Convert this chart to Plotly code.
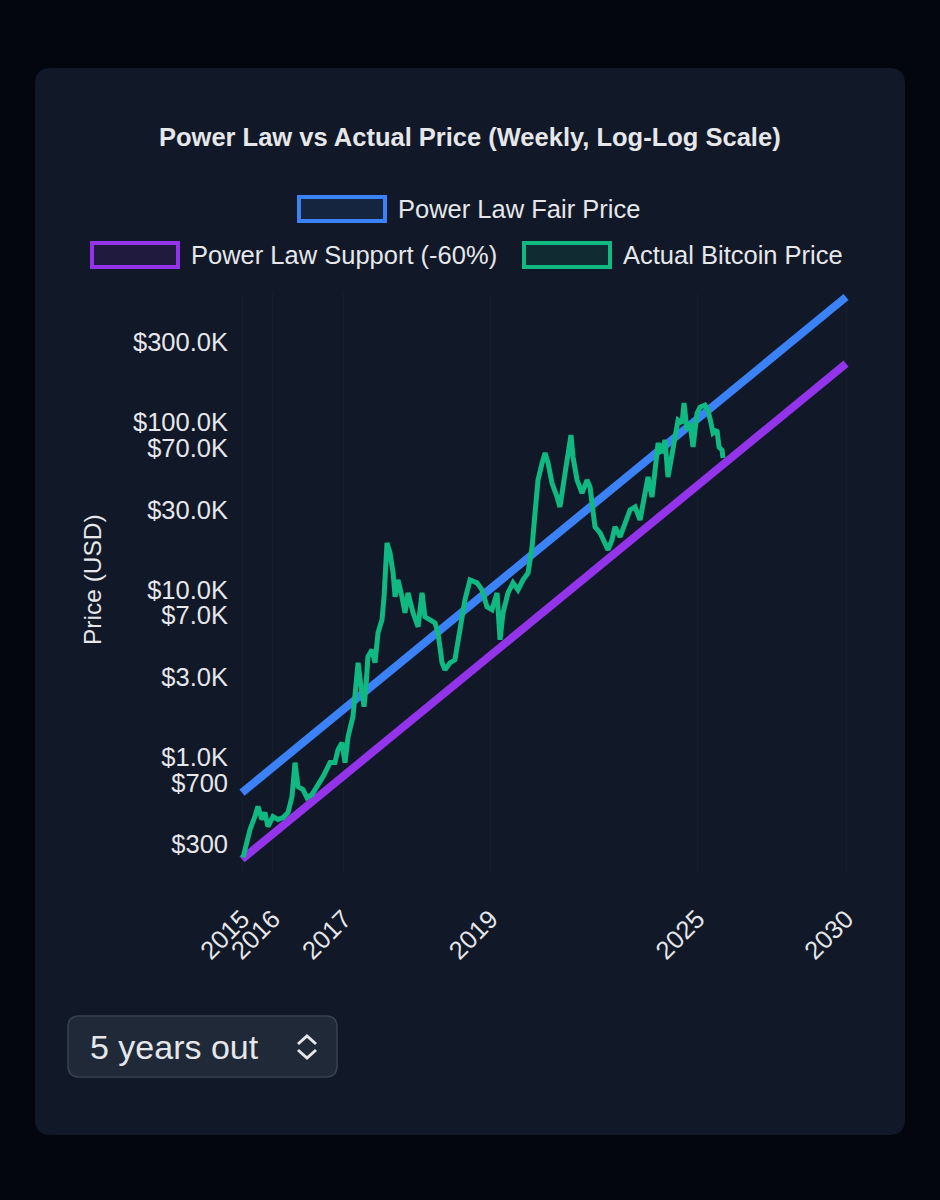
import plotly.graph_objects as go

# x = days since the genesis block (2009-01-03), both axes logarithmic
X_TICK_DAYS = [2457, 2610, 3000, 4000, 6000, 8030]
X_TICK_LABELS = ["2015", "2016", "2017", "2019", "2025", "2030"]

Y_TICK_VALS = [300, 700, 1000, 3000, 7000, 10000, 30000, 70000, 100000, 300000]
Y_TICK_LABELS = ["$300", "$700", "$1.0K", "$3.0K", "$7.0K", "$10.0K",
                 "$30.0K", "$70.0K", "$100.0K", "$300.0K"]

# power law lines (straight on log-log), read at the tick days
LAW_DAYS = [2457, 2610, 3000, 4000, 6000, 8030]
FAIR_PRICE = [613, 867, 1934, 10150, 104700, 560200]
SUPPORT_PRICE = [245, 347, 774, 4060, 41900, 224100]

# actual price
BTC_DAYS = [
    2462, 2496, 2520, 2535, 2555, 2570, 2585, 2611, 2637, 2663, 2689, 2710,
    2726, 2742, 2769, 2791, 2818, 2846, 2880, 2920, 2948, 2966, 2989, 3007,
    3025, 3054, 3078, 3085, 3103, 3121, 3133, 3145, 3170, 3189, 3208, 3233,
    3246, 3259, 3265, 3284, 3304, 3317, 3336, 3362, 3382, 3402, 3436, 3470,
    3497, 3517, 3552, 3587, 3608, 3637, 3658, 3694, 3730, 3767, 3804, 3842,
    3895, 3933, 3972, 4011, 4051, 4075, 4099, 4139, 4180, 4221, 4263, 4305,
    4339, 4364, 4390, 4425, 4451, 4477, 4512, 4557, 4583, 4629, 4656, 4683,
    4702, 4739, 4786, 4833, 4861, 4890, 4909, 4958, 5006, 5036, 5075, 5105,
    5156, 5206, 5258, 5310, 5362, 5415, 5447, 5490, 5522, 5555, 5598, 5631,
    5664, 5709, 5743, 5777, 5822, 5845, 5879, 5914, 5949, 5996, 6031, 6090,
    6126, 6162, 6187, 6235, 6260, 6297, 6309,
]
BTC_PRICE = [
    251, 369, 441, 506, 423, 466, 384, 441, 423, 435, 466, 580,
    926, 666, 639, 572, 596, 666, 763, 926, 926, 1107, 1218, 926,
    1323, 1741, 2894, 3656, 2629, 1998, 2629, 3970, 4371, 3656, 5521, 6599,
    9055, 14446, 19011, 16574, 12585, 9055, 11433, 9055, 7267, 9565, 7267, 5997,
    9565, 6879, 6599, 6334, 5521, 3656, 3321, 3656, 3810, 5521, 8688, 11433,
    10973, 9968, 7894, 7575, 9565, 5016, 7267, 9565, 10973, 9968, 11433, 12585,
    17993, 28708, 45170, 57060, 65460, 57060, 43350, 35770, 31170, 49740, 61960, 83810,
    61960, 45170, 37780, 45170, 41040, 28708, 23690, 21820, 19011, 17270, 19820, 23690,
    20650, 25020, 29920, 31170, 26080, 37780, 47080, 35770, 54030, 75110, 65460, 78280,
    47080, 68220, 81550, 103000, 98860, 130200, 89800, 98860, 71100, 113400, 123200, 126600,
    118200, 98860, 86150, 89800, 71100, 68220, 61120,
]

BLUE = "#3b82f6"
PURPLE = "#9333ea"
GREEN = "#10b981"
TEXT = "#e5e7eb"
PAGE_BG = "#03060f"
CARD_BG = "#111827"
FONT = "Liberation Sans, Arial, sans-serif"

W, H = 940, 1200
L, R, T, B = 238, 850, 293, 874  # plot area in pixels


def px(x):
    return (x - L) / (R - L)


def py(y):
    return (B - y) / (B - T)


def rounded_rect(x0, y0, x1, y1, r):
    """Rounded rectangle path in paper coordinates from pixel corners."""
    pts = [
        f"M {px(x0 + r)},{py(y0)}",
        f"L {px(x1 - r)},{py(y0)}",
        f"Q {px(x1)},{py(y0)} {px(x1)},{py(y0 + r)}",
        f"L {px(x1)},{py(y1 - r)}",
        f"Q {px(x1)},{py(y1)} {px(x1 - r)},{py(y1)}",
        f"L {px(x0 + r)},{py(y1)}",
        f"Q {px(x0)},{py(y1)} {px(x0)},{py(y1 - r)}",
        f"L {px(x0)},{py(y0 + r)}",
        f"Q {px(x0)},{py(y0)} {px(x0 + r)},{py(y0)}",
        "Z",
    ]
    return " ".join(pts)


fig = go.Figure()
fig.add_trace(go.Scatter(x=LAW_DAYS, y=FAIR_PRICE, mode="lines", name="Power Law Fair Price",
                         line=dict(color=BLUE, width=8), hoverinfo="skip"))
fig.add_trace(go.Scatter(x=LAW_DAYS, y=SUPPORT_PRICE, mode="lines", name="Power Law Support (-60%)",
                         line=dict(color=PURPLE, width=8), hoverinfo="skip"))
fig.add_trace(go.Scatter(x=BTC_DAYS, y=BTC_PRICE, mode="lines", name="Actual Bitcoin Price",
                         line=dict(color=GREEN, width=5)))

shapes = [
    # card
    dict(type="path", xref="paper", yref="paper", layer="below",
         path=rounded_rect(35, 68, 905, 1135, 16), fillcolor=CARD_BG, line=dict(width=0)),
    # select box
    dict(type="path", xref="paper", yref="paper",
         path=rounded_rect(68, 1016, 337, 1077, 11), fillcolor="#1f2937",
         line=dict(color="#374151", width=1.5)),
    # chevrons
    dict(type="path", xref="paper", yref="paper",
         path=f"M {px(298)},{py(1044)} L {px(307)},{py(1036)} L {px(316)},{py(1044)}",
         line=dict(color=TEXT, width=3)),
    dict(type="path", xref="paper", yref="paper",
         path=f"M {px(298)},{py(1050)} L {px(307)},{py(1058)} L {px(316)},{py(1050)}",
         line=dict(color=TEXT, width=3)),
]

annotations = [
    dict(text="<b>Power Law vs Actual Price (Weekly, Log-Log Scale)</b>", x=px(470), y=py(137),
         xref="paper", yref="paper", showarrow=False, xanchor="center", yanchor="middle",
         font=dict(size=25.5, color=TEXT, family=FONT)),
    dict(text="Price (USD)", x=px(92), y=py(580), xref="paper", yref="paper", showarrow=False,
         textangle=-90, xanchor="center", yanchor="middle", font=dict(size=24.5, color=TEXT, family=FONT)),
    dict(text="5 years out", x=px(88), y=py(1047), xref="paper", yref="paper", showarrow=False,
         xanchor="left", yanchor="middle", font=dict(size=34, color=TEXT, family=FONT)),
]

# legend as boxes + labels (chart.js style)
legend_items = [
    ("Power Law Fair Price", BLUE, "rgba(59,130,246,0.12)", 297, 209),
    ("Power Law Support (-60%)", PURPLE, "rgba(147,51,234,0.12)", 90, 255),
    ("Actual Bitcoin Price", GREEN, "rgba(16,185,129,0.12)", 522, 255),
]
for label, color, fill, x0, yc in legend_items:
    shapes.append(dict(type="rect", xref="paper", yref="paper",
                       x0=px(x0 + 2), x1=px(x0 + 88), y0=py(yc - 12), y1=py(yc + 12),
                       fillcolor=fill, line=dict(color=color, width=4)))
    annotations.append(dict(text=label, x=px(x0 + 99), y=py(yc), xref="paper", yref="paper",
                            showarrow=False, xanchor="left", yanchor="middle",
                            font=dict(size=25.5, color=TEXT, family=FONT)))

fig.update_layout(
    width=W, height=H,
    margin=dict(l=L, r=W - R, t=T, b=H - B),
    paper_bgcolor=PAGE_BG,
    plot_bgcolor="rgba(0,0,0,0)",
    showlegend=False,
    shapes=shapes,
    annotations=annotations,
    font=dict(family=FONT, color=TEXT, size=25.5),
)
fig.update_xaxes(
    type="log", range=[3.3870, 3.9081],
    tickvals=X_TICK_DAYS, ticktext=X_TICK_LABELS, tickangle=-45,
    tickfont=dict(size=25.5, color=TEXT), ticklabelstandoff=24,
    showgrid=True, gridcolor="#161d2b", gridwidth=1, zeroline=False, showline=False, ticks="",
)
fig.update_yaxes(
    type="log", range=[2.30103, 5.7723],
    tickvals=Y_TICK_VALS, ticktext=Y_TICK_LABELS,
    tickfont=dict(size=25.5, color=TEXT), ticklabelstandoff=9,
    showgrid=False, zeroline=False, showline=False, ticks="",
)

fig.write_html(
    "out.html",
    config={"displayModeBar": False},
    post_script="document.body.style.margin='0';document.body.style.background='#03060f';",
)
